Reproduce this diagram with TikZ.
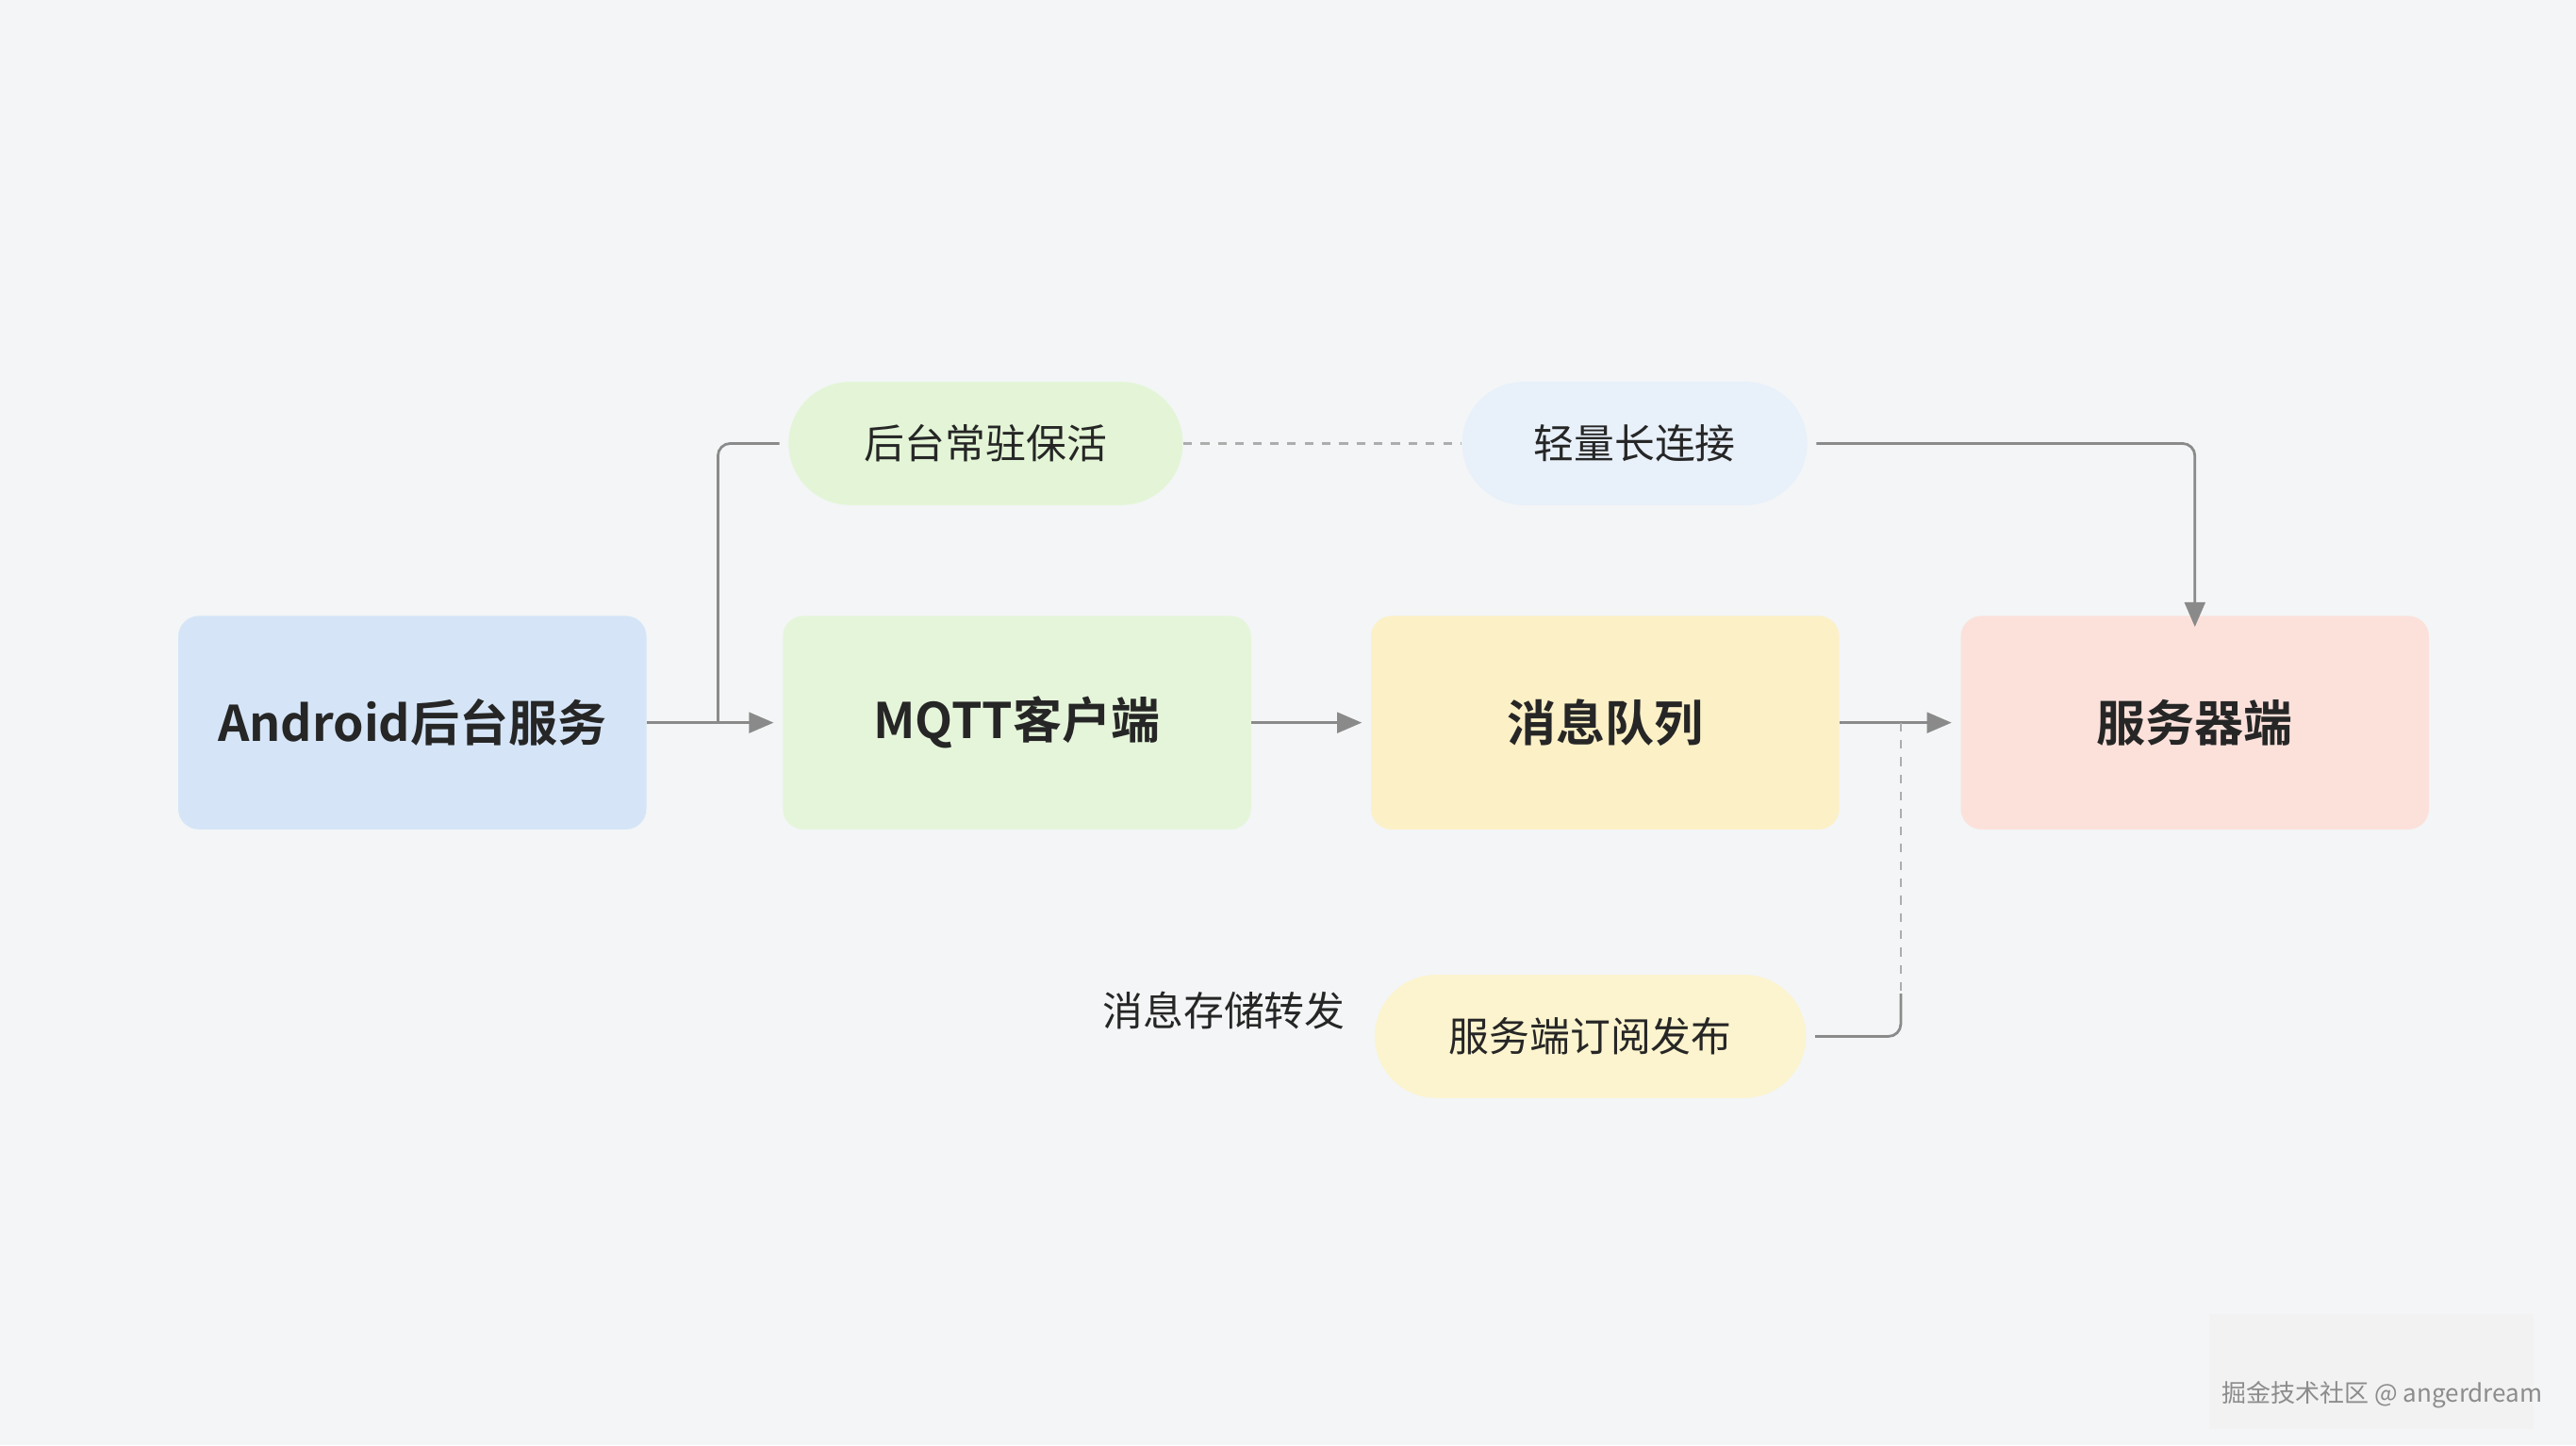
\documentclass[tikz,border=0pt]{standalone}
\usepackage{fontspec}
\setmainfont{Noto Sans CJK SC}
\newfontfamily\cjkb{Noto Sans CJK SC Bold}
\usetikzlibrary{arrows.meta}
\definecolor{bg}{HTML}{F3F5F6}
\definecolor{cA}{HTML}{D5E5F7}
\definecolor{cB}{HTML}{E5F5DA}
\definecolor{cC}{HTML}{FCF0C6}
\definecolor{cD}{HTML}{FCE1DB}
\definecolor{pA}{HTML}{E3F5D6}
\definecolor{pB}{HTML}{E8F0FA}
\definecolor{pC}{HTML}{FCF4CE}
\definecolor{ln}{HTML}{8A8A8A}
\tikzset{
  mainbox/.style={rounded corners=0.25cm, minimum width=5.7cm, minimum height=2.6cm, font=\cjkb\fontsize{17}{20}\selectfont, text=black!85, inner sep=0},
  pill/.style={rounded corners=0.75cm, minimum height=1.5cm, font=\fontsize{14}{16}\selectfont, text=black!85, inner sep=0},
  conn/.style={draw=ln, line width=0.9pt, rounded corners=0.15cm},
  arr/.style={conn, -{Triangle[length=0.3cm,width=0.25cm]}},
}
\begin{document}
\begin{tikzpicture}[x=0.02cm,y=-0.02cm]
\fill[bg] (0,0) rectangle (1568,880);
\node[mainbox, fill=cA] (and) at (251,440) {Android后台服务};
\node[mainbox, fill=cB] (mq) at (619,440) {MQTT客户端};
\node[mainbox, fill=cC] (q) at (977,440) {消息队列};
\node[mainbox, fill=cD] (srv) at (1336,440) {服务器端};
\node[pill, fill=pA, minimum width=4.8cm] (p1) at (600,270) {后台常驻保活};
\node[pill, fill=pB, minimum width=4.2cm] (p2) at (995,270) {轻量长连接};
\node[pill, fill=pC, minimum width=5.25cm] (p3) at (968,631) {服务端订阅发布};
\node[font=\fontsize{14}{16}\selectfont, text=black!85] (t) at (745,615) {消息存储转发};
\coordinate (br) at (437,440);
\coordinate (dq) at (1157,440);
\draw[arr] (and.east) -- ([xshift=-3]mq.west);
\draw[conn] (br) |- ([xshift=-3]p1.west);
\draw[arr] (mq.east) -- ([xshift=-3]q.west);
\draw[arr] (q.east) -- ([xshift=-3]srv.west);
\draw[conn, dashed, draw=ln!70] (p1.east) -- (p2.west);
\draw[arr] ([xshift=3]p2.east) -| ([yshift=-4]srv.north);
\draw[conn, dashed, draw=ln!70] (dq) -- (1157,615);
\draw[conn] (1157,605) |- ([xshift=3]p3.east);
\fill[black!5] (1345,800) rectangle (1542,870);
\node[font=\fontsize{8.5}{10}\selectfont, text=black!45] (wm) at (1450,849) {掘金技术社区 @ angerdream};
\end{tikzpicture}
\end{document}
